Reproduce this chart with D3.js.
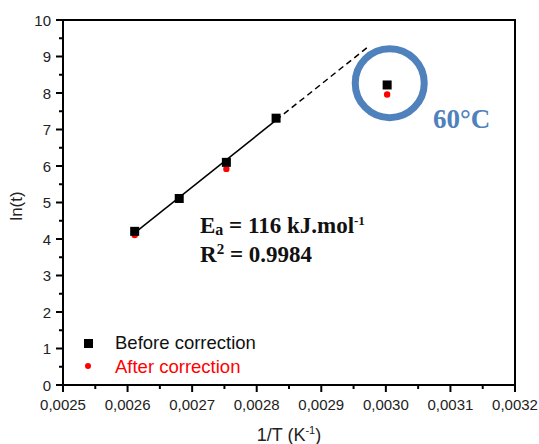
<!DOCTYPE html>
<html><head><meta charset="utf-8">
<script src="https://cdn.jsdelivr.net/npm/d3@7"></script>
<style>body{margin:0;background:#fff}</style>
</head><body>
<svg id="c" width="539" height="444"></svg>
<script>
const invT = [0.002611, 0.00268, 0.002753, 0.00283, 0.003002];
const lnBefore = [4.21, 5.11, 6.10, 7.31, 8.22];
const lnAfter = [4.11, 5.10, 5.92, 7.30, 7.96];
const xTicks = [0.0025, 0.0026, 0.0027, 0.0028, 0.0029, 0.0030, 0.0031, 0.0032];
const yTicks = [0,1,2,3,4,5,6,7,8,9,10];
const fitRange = [0.002611, 0.00283];
const extRange = [0.00283, 0.002975];
const circleCenter = [0.003006, 8.27];
const seriesNames = ["Before correction", "After correction"];

const svg = d3.select("#c");
const L=63, R=515, T=20, B=385;
const x = d3.scaleLinear().domain([0.0025,0.0032]).range([L,R]);
const y = d3.scaleLinear().domain([0,10]).range([B,T]);
const fmt = d => d3.format(".4f")(d).replace(".", ",");
const sans = "Liberation Sans, Arial, sans-serif";
const serif = "Liberation Serif, serif";

// regression on first 4 before points
const xs = invT.slice(0,4), ys = lnBefore.slice(0,4);
const mx = d3.mean(xs), my = d3.mean(ys);
const slope = d3.sum(xs.map((v,i)=>(v-mx)*(ys[i]-my)))/d3.sum(xs.map(v=>(v-mx)**2));
const icpt = my - slope*mx;
const f = v => icpt + slope*v;

// frame
svg.append("rect").attr("x",L).attr("y",T).attr("width",R-L).attr("height",B-T)
  .attr("fill","none").attr("stroke","#000").attr("stroke-width",2);

// x axis
const xMinor = d3.range(0.00255,0.0032,0.0001);
svg.append("g").selectAll("line").data(xTicks).join("line")
  .attr("x1",d=>x(d)).attr("x2",d=>x(d)).attr("y1",B).attr("y2",B+7).attr("stroke","#000").attr("stroke-width",2);
svg.append("g").selectAll("line").data(xMinor).join("line")
  .attr("x1",d=>x(d)).attr("x2",d=>x(d)).attr("y1",B).attr("y2",B+4).attr("stroke","#000").attr("stroke-width",2);
svg.append("g").selectAll("text").data(xTicks).join("text")
  .attr("x",d=>x(d)).attr("y",B+25).attr("text-anchor","middle")
  .attr("font-family",sans).attr("font-size",15).attr("fill","#222").text(fmt);

// y axis
const yMinor = d3.range(0.5,10,1);
svg.append("g").selectAll("line").data(yTicks).join("line")
  .attr("x1",L-7).attr("x2",L).attr("y1",d=>y(d)).attr("y2",d=>y(d)).attr("stroke","#000").attr("stroke-width",2);
svg.append("g").selectAll("line").data(yMinor).join("line")
  .attr("x1",L-4).attr("x2",L).attr("y1",d=>y(d)).attr("y2",d=>y(d)).attr("stroke","#000").attr("stroke-width",2);
svg.append("g").selectAll("text").data(yTicks).join("text")
  .attr("x",L-12).attr("y",d=>y(d)+5.5).attr("text-anchor","end")
  .attr("font-family",sans).attr("font-size",15).attr("fill","#222").text(d=>d);

// axis titles
svg.append("text").attr("transform",`translate(22,206) rotate(-90)`).attr("text-anchor","middle")
  .attr("font-family",sans).attr("font-size",17).attr("fill","#222").text("ln(t)");
const xt = svg.append("text").attr("x",289).attr("y",441).attr("text-anchor","middle")
  .attr("font-family",sans).attr("font-size",18).attr("fill","#222");
xt.append("tspan").text("1/T (K");
xt.append("tspan").attr("dy",-7).attr("font-size",11).text("-1");
xt.append("tspan").attr("dy",7).text(")");

// fit lines
svg.append("line").attr("x1",x(fitRange[0])).attr("y1",y(f(fitRange[0])))
  .attr("x2",x(fitRange[1])).attr("y2",y(f(fitRange[1]))).attr("stroke","#000").attr("stroke-width",1.5);
svg.append("line").attr("x1",x(extRange[0])).attr("y1",y(f(extRange[0])))
  .attr("x2",x(extRange[1])).attr("y2",y(f(extRange[1]))).attr("stroke","#000").attr("stroke-width",1.5)
  .attr("stroke-dasharray","6,4");

// points
svg.append("g").selectAll("circle").data(invT).join("circle")
  .attr("cx",d=>x(d)).attr("cy",(d,i)=>y(lnAfter[i])).attr("r",3.2).attr("fill","#ff0000");
svg.append("g").selectAll("rect").data(invT).join("rect")
  .attr("x",d=>x(d)-4.5).attr("y",(d,i)=>y(lnBefore[i])-4.5).attr("width",9).attr("height",9).attr("fill","#000");

// circle highlight
svg.append("circle").attr("cx",x(circleCenter[0])).attr("cy",y(circleCenter[1])).attr("r",34.5)
  .attr("fill","none").attr("stroke","#4f81bd").attr("stroke-width",7);
svg.append("text").attr("x",433).attr("y",128).attr("font-family",serif)
  .attr("font-weight","bold").attr("font-size",27).attr("fill","#4f81bd").text("60°C");

// annotation
const a1 = svg.append("text").attr("x",200).attr("y",233).attr("font-family",serif)
  .attr("font-weight","bold").attr("font-size",23).attr("fill","#111");
a1.append("tspan").text("E");
a1.append("tspan").attr("dy",2).attr("font-size",16).text("a");
a1.append("tspan").attr("dy",-2).text(" = 116 kJ.mol");
a1.append("tspan").attr("dy",-8).attr("font-size",13).text("-1");
const a2 = svg.append("text").attr("x",200).attr("y",262).attr("font-family",serif)
  .attr("font-weight","bold").attr("font-size",23).attr("fill","#111");
a2.append("tspan").text("R");
a2.append("tspan").attr("dy",-8).attr("font-size",15).text("2");
a2.append("tspan").attr("dy",8).text(" = 0.9984");

// legend
svg.append("rect").attr("x",84).attr("y",339).attr("width",9).attr("height",9).attr("fill","#000");
svg.append("circle").attr("cx",88).attr("cy",366).attr("r",3).attr("fill","#ff0000");
svg.append("text").attr("x",115).attr("y",349).attr("font-family",sans).attr("font-size",18.5).attr("fill","#111").text(seriesNames[0]);
svg.append("text").attr("x",115).attr("y",373).attr("font-family",sans).attr("font-size",18.5).attr("fill","#ff0000").text(seriesNames[1]);
</script>
</body></html>
